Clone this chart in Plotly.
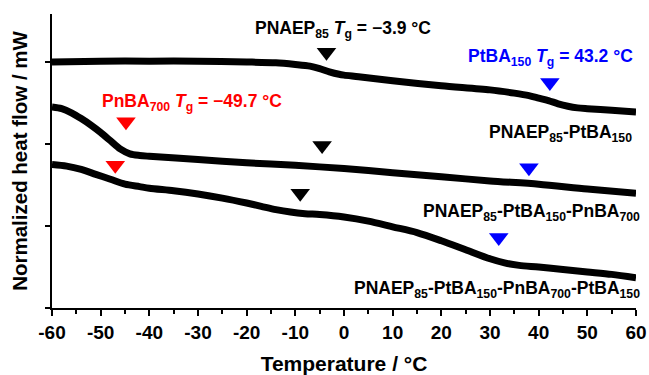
import plotly.graph_objects as go

# Temperature (°C) and normalized heat flow (offset, arbitrary units)
t1 = [-60, -50, -40, -30, -20, -14, -10, -7, -5, -3, -1, 0, 3, 10, 20, 30, 35, 38, 40, 42, 44, 46, 48, 50, 55, 60]
h1 = [3.00, 3.01, 3.01, 3.01, 3.00, 2.99, 2.97, 2.95, 2.92, 2.88, 2.85, 2.84, 2.82, 2.77, 2.71, 2.66, 2.62, 2.59, 2.56, 2.53, 2.49, 2.46, 2.44, 2.43, 2.41, 2.39]

t2 = [-60, -58, -56, -54, -52, -50, -48, -46, -44, -42, -40, -30, -20, -10, 0, 10, 20, 30, 40, 50, 60]
h2 = [2.45, 2.43, 2.38, 2.31, 2.23, 2.14, 2.04, 1.94, 1.88, 1.86, 1.85, 1.81, 1.77, 1.74, 1.70, 1.65, 1.60, 1.55, 1.51, 1.45, 1.40]

t3 = [-60, -57, -54, -51, -48, -45, -42, -40, -35, -30, -25, -20, -17, -14, -11, -8, -5, 0, 5, 10, 15, 20, 25, 30, 33, 36, 40, 45, 50, 55, 60]
h3 = [1.75, 1.73, 1.69, 1.63, 1.57, 1.51, 1.48, 1.46, 1.43, 1.39, 1.34, 1.28, 1.24, 1.20, 1.17, 1.15, 1.14, 1.11, 1.06, 0.99, 0.92, 0.82, 0.71, 0.60, 0.55, 0.52, 0.50, 0.47, 0.44, 0.41, 0.37]

# Tg markers (x in °C, y in heat-flow units)
black_x = [-3.6, -4.5, -9.0]
black_y = [3.12, 1.98, 1.40]
blue_x = [42.3, 38.0, 31.8]
blue_y = [2.75, 1.71, 0.86]
red_x = [-44.8, -47.0]
red_y = [2.27, 1.74]

x_tickvals = [-60, -50, -40, -30, -20, -10, 0, 10, 20, 30, 40, 50, 60]
x_ticktext = ["-60", "-50", "-40", "-30", "-20", "-10", "0", "10", "20", "30", "40", "50", "60"]
y_tickvals = [0, 1, 2, 3]

FONT = "Liberation Sans, Arial, sans-serif"
LW = 7

fig = go.Figure()
for t, h in [(t1, h1), (t2, h2), (t3, h3)]:
    fig.add_trace(go.Scatter(x=t, y=h, mode="lines", line=dict(color="black", width=LW, shape="spline", smoothing=0.8),
                             showlegend=False, hoverinfo="skip"))

for xs, ys, c in [(black_x, black_y, "black"), (blue_x, blue_y, "#0000ff"), (red_x, red_y, "#ff0000")]:
    fig.add_trace(go.Scatter(x=xs, y=ys, mode="markers",
                             marker=dict(symbol="triangle-down", size=17, color=c, line=dict(width=0)),
                             showlegend=False, hoverinfo="skip", cliponaxis=False))

def ann(text, x, y, color="black", xanchor="center", xshift=0):
    fig.add_annotation(text="<b>" + text + "</b>", x=x, y=y, xref="x", yref="y", showarrow=False,
                       xanchor=xanchor, yanchor="middle", xshift=xshift,
                       font=dict(family=FONT, size=17.5, color=color))

ann("PNAEP<sub>85</sub> <i>T</i><sub>g</sub> = −3.9 °C", -0.3, 3.39)
ann("PtBA<sub>150</sub> <i>T</i><sub>g</sub> = 43.2 °C", 42.5, 3.05, color="#0000ff")
ann("PnBA<sub>700</sub> <i>T</i><sub>g</sub> = −49.7 °C", -31.2, 2.51, color="#ff0000")
ann("PNAEP<sub>85</sub>-PtBA<sub>150</sub>", 60, 2.13, xanchor="right", xshift=-2)
ann("PNAEP<sub>85</sub>-PtBA<sub>150</sub>-PnBA<sub>700</sub>", 60, 1.17, xanchor="right", xshift=6)
ann("PNAEP<sub>85</sub>-PtBA<sub>150</sub>-PnBA<sub>700</sub>-PtBA<sub>150</sub>", 60, 0.22, xanchor="right", xshift=6)

fig.update_layout(
    width=649, height=375,
    margin=dict(l=52, r=13, t=14, b=67),
    paper_bgcolor="white", plot_bgcolor="white",
    font=dict(family=FONT, color="black"),
    xaxis=dict(range=[-60, 60], tickvals=x_tickvals, ticktext=x_ticktext, automargin=False,
               showgrid=False, zeroline=False, showline=True, linecolor="black", linewidth=2,
               ticks="outside", ticklen=6, tickwidth=2, tickcolor="black",
               minor=dict(dtick=5, ticks="outside", ticklen=4, tickwidth=2, tickcolor="black", showgrid=False),
               tickfont=dict(family=FONT, size=19, color="black", weight="bold"),
               title=dict(text="<b>Temperature / °C</b>", font=dict(family=FONT, size=21, color="black"), standoff=18)),
    yaxis=dict(range=[0, 3.585], tickvals=y_tickvals, showticklabels=False, automargin=False,
               showgrid=False, zeroline=False, showline=True, linecolor="black", linewidth=2,
               ticks="outside", ticklen=5, tickwidth=2, tickcolor="black",
               title=dict(text="<b>Normalized heat flow / mW</b>", font=dict(family=FONT, size=20.5, color="black"), standoff=12)),
)

fig.write_html("out.html")
